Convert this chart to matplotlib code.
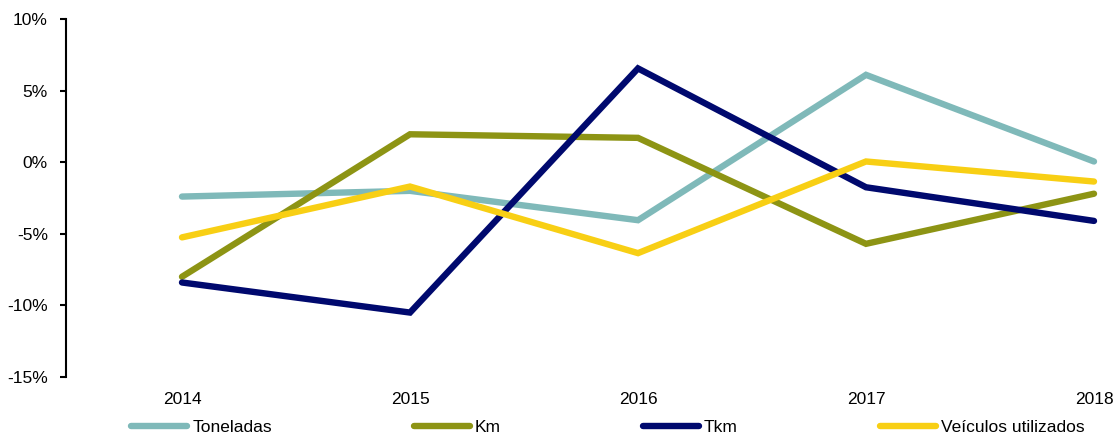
import matplotlib
matplotlib.use("Agg")
import matplotlib.pyplot as plt
from matplotlib.ticker import FuncFormatter

plt.rcParams['font.family'] = ['Liberation Sans', 'DejaVu Sans']

years = ['2014', '2015', '2016', '2017', '2018']
toneladas = [-2.4, -2.0, -4.05, 6.1, 0.05]
km = [-8.0, 1.95, 1.7, -5.7, -2.2]
tkm = [-8.4, -10.5, 6.55, -1.75, -4.1]
veiculos = [-5.25, -1.7, -6.35, 0.05, -1.35]

series = [
    ('Toneladas', toneladas, '#7FB9B9'),
    ('Km', km, '#8D9414'),
    ('Tkm', tkm, '#00096E'),
    ('Veículos utilizados', veiculos, '#F8CF14'),
]

fig = plt.figure(figsize=(11.17, 4.34), dpi=100)
ax = fig.add_axes([66 / 1117, 1 - 377 / 434, 1 - 66 / 1117, (377 - 19) / 434])

x = list(range(len(years)))
handles = []
for name, vals, col in series:
    h, = ax.plot(x, vals, color=col, lw=4.6, solid_capstyle='round',
                 solid_joinstyle='miter', label=name)
    handles.append(h)

ax.set_ylim(-15, 10)
ax.set_yticks([-15, -10, -5, 0, 5, 10])
ax.yaxis.set_major_formatter(FuncFormatter(lambda v, p: f'{v:.0f}%'))
ax.set_xlim(-116 / 228, (1117 - 182) / 228)
ax.set_xticks(x)
ax.set_xticklabels(years)

for s in ['top', 'right', 'bottom']:
    ax.spines[s].set_visible(False)
ax.spines['left'].set_linewidth(1.5)
ax.tick_params(axis='y', direction='out', length=4, width=1.5, pad=9,
               labelsize=12.5, colors='black')
ax.tick_params(axis='x', length=0, pad=11, labelsize=12.5)

fig.legend(handles=handles, loc='center', bbox_to_anchor=(608 / 1117, 1 - 427 / 434),
           ncol=4, frameon=False, fontsize=12.5, handlelength=3.2,
           handletextpad=0.3, columnspacing=8.2, borderaxespad=0, borderpad=0)

fig.savefig('out.png', dpi=100)
